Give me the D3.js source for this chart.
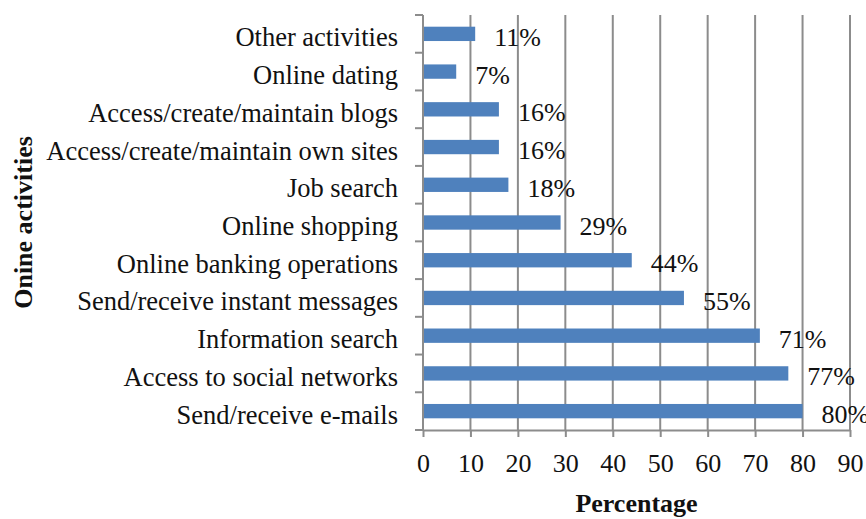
<!DOCTYPE html>
<meta charset="utf-8">
<html>
<head>
<style>
body { margin: 0; background: #fff; }
text { font-family: "Liberation Serif", "Times New Roman", serif; fill: #111; }
.grid line { stroke: #8c8c8c; stroke-width: 2px; }
.axis path, .axis line { stroke: #8c8c8c; stroke-width: 2px; }
</style>
</head>
<body>
<script src="https://d3js.org/d3.v7.min.js"></script>
<script>

// categories top to bottom
var activities = ["Other activities", "Online dating", "Access/create/maintain blogs",
  "Access/create/maintain own sites", "Job search", "Online shopping",
  "Online banking operations", "Send/receive instant messages", "Information search",
  "Access to social networks", "Send/receive e-mails"];
var percents = [11, 7, 16, 16, 18, 29, 44, 55, 71, 77, 80];
var xTicks = [0, 10, 20, 30, 40, 50, 60, 70, 80, 90];

var data = activities.map(function(a, i) { return {name: a, value: percents[i]}; });

var W = 866, H = 519;
var plotLeft = 423, plotRight = 850, plotTop = 15, plotBottom = 430;

var svg = d3.select("body").append("svg")
  .attr("width", W)
  .attr("height", H);

var x = d3.scaleLinear().domain([0, 90]).range([plotLeft, plotRight]);
var y = d3.scaleBand().domain(activities).range([plotTop, plotBottom])
  .paddingInner(0.62).paddingOuter(0.31);

// vertical grid
svg.append("g").attr("class", "grid")
  .selectAll("line")
  .data(xTicks.filter(function(t) { return t > 0; }))
  .enter().append("line")
  .attr("x1", function(d) { return x(d); })
  .attr("x2", function(d) { return x(d); })
  .attr("y1", plotTop)
  .attr("y2", plotBottom);

// bars
svg.selectAll(".bar")
  .data(data)
  .enter().append("rect")
  .attr("class", "bar")
  .attr("x", x(0))
  .attr("y", function(d) { return y(d.name); })
  .attr("width", function(d) { return x(d.value) - x(0); })
  .attr("height", y.bandwidth())
  .attr("fill", "#4f81bd");

// x axis
var xAxis = svg.append("g").attr("class", "axis")
  .attr("transform", "translate(0," + plotBottom + ")")
  .call(d3.axisBottom(x).tickValues(xTicks).tickSizeInner(7).tickSizeOuter(0).tickPadding(17));
xAxis.selectAll("text")
  .style("font-size", "26px")
  .attr("fill", "#111")
  .attr("font-family", "Liberation Serif");

// y axis line + ticks at band boundaries
var gap = (y.step() - y.bandwidth()) / 2;
var bounds = activities.map(function(a) { return y(a) - gap; }).concat([plotBottom]);
svg.append("line").attr("class", "yline")
  .attr("x1", plotLeft).attr("x2", plotLeft).attr("y1", plotTop).attr("y2", plotBottom)
  .attr("stroke", "#8c8c8c").attr("stroke-width", 2);
svg.selectAll(".ytick")
  .data(bounds)
  .enter().append("line")
  .attr("class", "ytick")
  .attr("x1", plotLeft - 8).attr("x2", plotLeft)
  .attr("y1", function(d) { return d; })
  .attr("y2", function(d) { return d; })
  .attr("stroke", "#8c8c8c").attr("stroke-width", 2);

// category labels
svg.selectAll(".cat")
  .data(data)
  .enter().append("text")
  .attr("class", "cat")
  .attr("x", 398)
  .attr("y", function(d) { return y(d.name) + y.bandwidth() / 2 + 12.5; })
  .attr("text-anchor", "end")
  .style("font-size", "26.5px")
  .text(function(d) { return d.name; });

// value labels
svg.selectAll(".val")
  .data(data)
  .enter().append("text")
  .attr("class", "val")
  .attr("x", function(d) { return x(d.value) + 19; })
  .attr("y", function(d) { return y(d.name) + y.bandwidth() / 2 + 12; })
  .style("font-size", "26px")
  .text(function(d) { return d.value + "%"; });

// axis titles
svg.append("text")
  .attr("x", (plotLeft + plotRight) / 2)
  .attr("y", 512)
  .attr("text-anchor", "middle")
  .style("font-size", "26px")
  .style("font-weight", "bold")
  .text("Percentage");

svg.append("text")
  .attr("transform", "translate(32," + ((plotTop + plotBottom) / 2) + ") rotate(-90)")
  .attr("text-anchor", "middle")
  .style("font-size", "26px")
  .style("font-weight", "bold")
  .text("Onine activities");

</script>
</body>
</html>
